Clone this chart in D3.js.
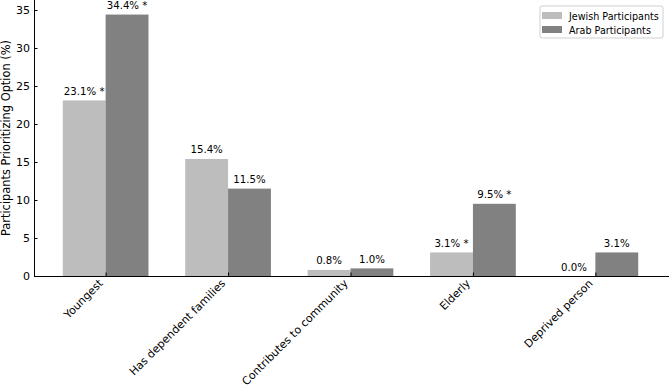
<!DOCTYPE html>
<html>
<head>
<meta charset="utf-8">
<script src="https://cdn.jsdelivr.net/npm/d3@7"></script>
<style>
	body { margin: 0; background: #fff; }
	svg { display: block; font-family: 'DejaVu Sans', sans-serif; }
	.axis path, .axis line { stroke: #000; }
	.axis text { fill: #000; font-size: 11px; font-family: 'DejaVu Sans', sans-serif; }
	.value-label { font-size: 10.2px; fill: #000; text-anchor: middle; }
</style>
</head>
<body>
<div id="chart"></div>
<script>
// Data
var categories = ['Youngest', 'Has dependent families', 'Contributes to community', 'Elderly', 'Deprived person'];
var jewishValues = [23.1, 15.4, 0.8, 3.1, 0.0];
var arabValues = [34.4, 11.5, 1.0, 9.5, 3.1];
var jewishLabels = ['23.1% *', '15.4%', '0.8%', '3.1% *', '0.0%'];
var arabLabels = ['34.4% *', '11.5%', '1.0%', '9.5% *', '3.1%'];
var seriesNames = ['Jewish Participants', 'Arab Participants'];
var yTicks = [0, 5, 10, 15, 20, 25, 30, 35];

var COLORS = { jewish: '#bdbdbd', arab: '#818181' };

var width = 669;
var height = 391;
var margins = { top: 1.5, right: 2, bottom: 115, left: 34 };
var chartWidth = width - margins.left - margins.right;
var chartHeight = height - margins.top - margins.bottom;

var svg = d3.select('#chart')
	.append('svg')
	.attr('width', width)
	.attr('height', height);

var chartElement = svg.append('g')
	.attr('transform', 'translate(' + margins.left + ',' + margins.top + ')');

var barWidth = 0.35;
var xScale = d3.scaleLinear()
	.domain([-0.585, categories.length - 1 + 0.585])
	.range([0, chartWidth]);

var yMax = d3.max(jewishValues.concat(arabValues)) * 1.05;
var yScale = d3.scaleLinear()
	.domain([0, yMax])
	.range([chartHeight, 0]);

/*
 * Bars
 */
var series = [
	{ name: seriesNames[0], values: jewishValues, labels: jewishLabels, color: COLORS.jewish, offset: -barWidth / 2 },
	{ name: seriesNames[1], values: arabValues, labels: arabLabels, color: COLORS.arab, offset: barWidth / 2 }
];

series.forEach(function(s) {
	var g = chartElement.append('g').attr('class', 'bars');

	g.selectAll('rect')
		.data(s.values)
		.enter()
		.append('rect')
		.attr('x', function(d, i) { return xScale(i + s.offset - barWidth / 2); })
		.attr('width', xScale(barWidth) - xScale(0))
		.attr('y', function(d) { return yScale(d); })
		.attr('height', function(d) { return yScale(0) - yScale(d); })
		.attr('fill', s.color);

	g.selectAll('text')
		.data(s.values)
		.enter()
		.append('text')
		.attr('class', 'value-label')
		.attr('x', function(d, i) { return xScale(i + s.offset); })
		.attr('y', function(d) { return yScale(d) - 5.5; })
		.text(function(d, i) { return s.labels[i]; });
});

/*
 * Axes
 */
var yAxis = d3.axisLeft(yScale)
	.tickValues(yTicks)
	.tickSizeInner(-3.5)
	.tickSizeOuter(0)
	.tickPadding(4);

var yAxisG = chartElement.append('g')
	.attr('class', 'y axis')
	.call(yAxis);
yAxisG.select('.domain').attr('d', 'M0.5,' + (chartHeight) + 'V' + (-margins.top));

var xAxis = d3.axisBottom(xScale)
	.tickValues(d3.range(categories.length))
	.tickSizeInner(-3.5)
	.tickSizeOuter(0)
	.tickFormat(function(d) { return categories[d]; });

var xAxisG = chartElement.append('g')
	.attr('class', 'x axis')
	.attr('transform', 'translate(0,' + chartHeight + ')')
	.call(xAxis);

xAxisG.select('.domain').attr('d', 'M0,0.5H' + (chartWidth + margins.right));

xAxisG.selectAll('text')
	.attr('text-anchor', 'end')
	.attr('dy', null)
	.attr('y', 0)
	.attr('transform', 'translate(-2.5,8) rotate(-45)');

// y axis label
svg.append('text')
	.attr('transform', 'translate(10,' + 138 + ') rotate(-90)')
	.attr('text-anchor', 'middle')
	.attr('font-size', '11.4px')
	.attr('fill', '#000')
	.text('Participants Prioritizing Option (%)');

/*
 * Legend
 */
var legend = svg.append('g')
	.attr('class', 'legend')
	.attr('transform', 'translate(540,6)');

legend.append('rect')
	.attr('width', 123)
	.attr('height', 32)
	.attr('rx', 2)
	.attr('fill', '#fff')
	.attr('stroke', '#d0d0d0');

series.forEach(function(s, i) {
	legend.append('rect')
		.attr('x', 2)
		.attr('y', 6 + i * 14)
		.attr('width', 20)
		.attr('height', 7)
		.attr('fill', s.color);
	legend.append('text')
		.attr('x', 29)
		.attr('y', 13.5 + i * 14)
		.attr('font-size', '9.6px')
		.attr('fill', '#000')
		.text(s.name);
});
</script>
</body>
</html>
